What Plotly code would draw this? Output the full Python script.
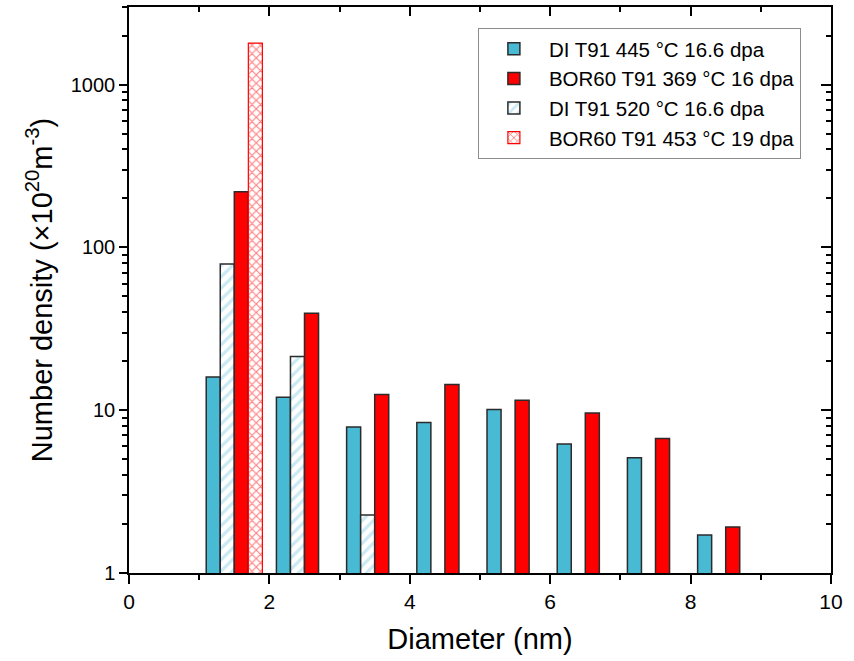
import plotly.graph_objects as go

# Data (bin centres in nm, number density in 1e20 m^-3)
diameter_bins = [1.5, 2.5, 3.5, 4.5, 5.5, 6.5, 7.5, 8.5]

di445_x = [1.5, 2.5, 3.5, 4.5, 5.5, 6.5, 7.5, 8.5]
di445_y = [16, 12, 7.9, 8.4, 10.1, 6.2, 5.1, 1.71]

di520_x = [1.5, 2.5, 3.5]
di520_y = [79, 21.4, 2.27]

bor369_x = [1.5, 2.5, 3.5, 4.5, 5.5, 6.5, 7.5, 8.5]
bor369_y = [220, 39.4, 12.5, 14.4, 11.5, 9.6, 6.7, 1.92]

bor453_x = [1.5]
bor453_y = [1800]

names = ["DI T91 445 °C 16.6 dpa", "DI T91 520 °C 16.6 dpa",
         "BOR60 T91 369 °C 16 dpa", "BOR60 T91 453 °C 19 dpa"]

x_ticks = [0, 2, 4, 6, 8, 10]
y_ticks = [1, 10, 100, 1000]

FONT = "Liberation Sans, Arial, sans-serif"
CYAN = "#48BAD3"
RED = "#FF0000"
EDGE = "#2b2b2b"

fig = go.Figure()
fig.add_trace(go.Bar(x=di445_x, y=di445_y, name=names[0], legendrank=1,
                     marker=dict(color=CYAN, line=dict(color=EDGE, width=1.5))))
fig.add_trace(go.Bar(x=di520_x, y=di520_y, name=names[1], legendrank=3,
                     marker=dict(color="white", line=dict(color=EDGE, width=1.5),
                                 pattern=dict(shape="/", fgcolor="#95d3e8", bgcolor="white",
                                              size=8, solidity=0.4))))
fig.add_trace(go.Bar(x=bor369_x, y=bor369_y, name=names[2], legendrank=2,
                     marker=dict(color=RED, line=dict(color=EDGE, width=1.5))))
fig.add_trace(go.Bar(x=bor453_x, y=bor453_y, name=names[3], legendrank=4,
                     marker=dict(color="white", line=dict(color=RED, width=1.2),
                                 pattern=dict(shape="x", fgcolor=RED, bgcolor="white",
                                              size=6, solidity=0.35))))
# dummy trace to activate mirrored axes
fig.add_trace(go.Scatter(x=[None], y=[None], xaxis="x2", yaxis="y2",
                         showlegend=False, hoverinfo="skip"))

ylo, yhi = 0, 3.4771

fig.update_layout(
    width=854, height=661,
    margin=dict(l=129, r=23, t=7, b=88),
    paper_bgcolor="white", plot_bgcolor="white",
    barmode="group", bargap=0.2, bargroupgap=0.0,
    font=dict(family=FONT, size=20, color="black"),
    xaxis=dict(range=[0, 10], tickvals=x_ticks, ticks="outside", ticklen=9, tickwidth=1.5,
               tickcolor="black", showline=True, linecolor="black", linewidth=1.5,
               showgrid=False, zeroline=False,
               minor=dict(dtick=1, tick0=0, ticks="outside", ticklen=5, tickwidth=1.5,
                          tickcolor="black", showgrid=False),
               title=dict(text="Diameter (nm)", font=dict(size=29), standoff=17),
               tickfont=dict(size=21)),
    yaxis=dict(type="log", range=[ylo, yhi], tickvals=y_ticks, ticks="outside", ticklen=8,
               tickwidth=1.5, tickcolor="black", showline=True, linecolor="black",
               linewidth=1.5, showgrid=False, zeroline=False,
               minor=dict(dtick="D1", ticks="outside", ticklen=5, tickwidth=1.5,
                          tickcolor="black", showgrid=False),
               title=dict(text="Number density (×10<sup>20</sup>m<sup>-3</sup>)",
                          font=dict(size=29), standoff=10),
               tickfont=dict(size=20)),
    xaxis2=dict(overlaying="x", side="top", range=[0, 10], tickvals=x_ticks,
                showticklabels=False, ticks="inside", ticklen=9, tickwidth=1.5,
                tickcolor="black", showline=True, linecolor="black", linewidth=1.5,
                showgrid=False, zeroline=False,
                minor=dict(dtick=1, tick0=0, ticks="inside", ticklen=5, tickwidth=1.5,
                           tickcolor="black", showgrid=False)),
    yaxis2=dict(overlaying="y", side="right", type="log", range=[ylo, yhi], tickvals=y_ticks,
                showticklabels=False, ticks="inside", ticklen=10, tickwidth=1.5,
                tickcolor="black", showline=True, linecolor="black", linewidth=1.5,
                showgrid=False, zeroline=False,
                minor=dict(dtick="D1", ticks="inside", ticklen=5, tickwidth=1.5,
                           tickcolor="black", showgrid=False)),
    legend=dict(x=0.497, y=0.963, xanchor="left", yanchor="top",
                bgcolor="white", bordercolor="#8c8c8c", borderwidth=1,
                font=dict(size=20.5), itemwidth=60, tracegroupgap=0, traceorder="normal"),
    showlegend=True,
)

fig.write_html("out.html", config={"displayModeBar": False},
               post_script="document.body.style.margin='0';document.body.style.padding='0';")
